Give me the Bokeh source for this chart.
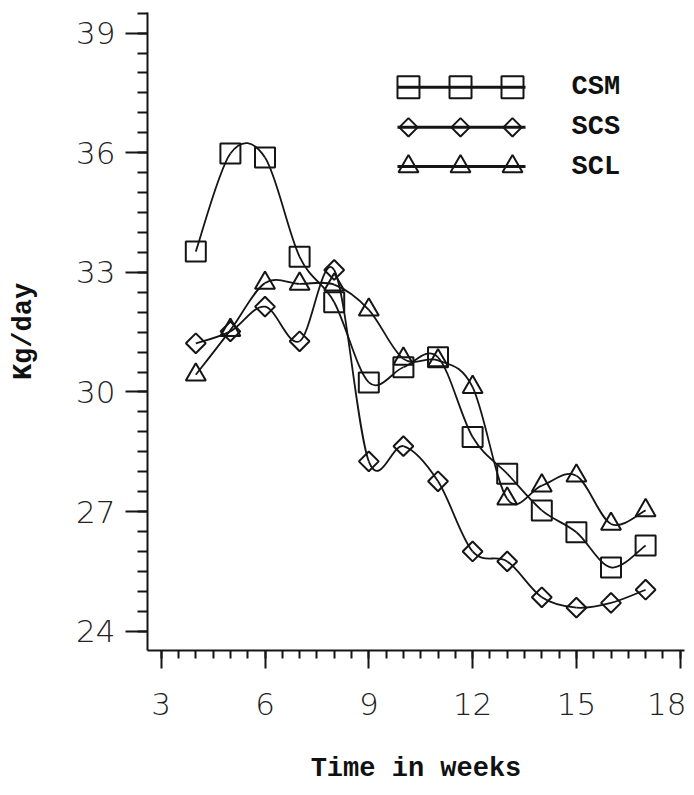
import numpy as np
from bokeh.plotting import figure
from bokeh.models import FixedTicker, Range1d, Label
from bokeh.embed import file_html
from bokeh.resources import INLINE

# ---- data ----
weeks = [4, 5, 6, 7, 8, 9, 10, 11, 12, 13, 14, 15, 16, 17]
csm = [33.52, 35.98, 35.88, 33.39, 32.25, 30.24, 30.62, 30.87, 28.87, 27.95, 27.03, 26.48, 25.60, 26.15]
scs = [31.22, 31.52, 32.14, 31.27, 33.06, 28.26, 28.64, 27.76, 26.00, 25.75, 24.85, 24.59, 24.71, 25.04]
scl = [30.43, 31.55, 32.73, 32.71, 32.69, 32.06, 30.83, 30.79, 30.12, 27.32, 27.65, 27.90, 26.69, 27.03]
series_names = ["CSM", "SCS", "SCL"]
x_ticks = [3, 6, 9, 12, 15, 18]
y_ticks = [24, 27, 30, 33, 36, 39]
x_label = "Time in weeks"
y_label = "Kg/day"

# ---- layout ----
X0, X1 = 2.604, 18.124
Y0, Y1 = 23.516, 39.516
INK = "#151515"
TICK_FONT = "'DejaVu Sans ExtraLight', 'DejaVu Sans Light', 'Lato Light', 'DejaVu Sans', sans-serif"
MONO = "Liberation Mono"

p = figure(width=686, height=787, x_range=Range1d(X0, X1), y_range=Range1d(Y0, Y1),
           output_backend="svg", toolbar_location=None,
           min_border_left=147, min_border_right=2, min_border_top=12, min_border_bottom=137)
p.outline_line_color = None
p.grid.visible = False
p.background_fill_color = "white"
p.border_fill_color = "white"


def style_axis(ax, ticks, minor, tick_out, minor_out, standoff):
    ax.ticker = FixedTicker(ticks=ticks, minor_ticks=minor)
    ax.axis_line_color = INK
    ax.axis_line_width = 2
    ax.major_tick_line_color = INK
    ax.major_tick_line_width = 2
    ax.minor_tick_line_color = INK
    ax.minor_tick_line_width = 2
    ax.major_tick_in = 0
    ax.minor_tick_in = 0
    ax.major_tick_out = tick_out
    ax.minor_tick_out = minor_out
    ax.major_label_text_font = TICK_FONT
    ax.major_label_text_font_size = "31px"
    ax.major_label_text_color = "#222222"
    ax.major_label_standoff = standoff
    ax.axis_label_text_font = MONO
    ax.axis_label_text_font_style = "bold"
    ax.axis_label_text_font_size = "27px"
    ax.axis_label_text_color = "#111111"


style_axis(p.xaxis[0], x_ticks, list(np.arange(2.5, 18.11, 0.5)), 18, 8, 24)
style_axis(p.yaxis[0], y_ticks, list(np.arange(23.5, 39.51, 0.5)), 22, 10, 10)
p.xaxis[0].axis_label = x_label
p.xaxis[0].axis_label_standoff = 36
p.yaxis[0].axis_label = y_label
p.yaxis[0].axis_label_standoff = 34


def catmull_rom(xs, ys):
    x = np.asarray(xs, float)
    y = np.asarray(ys, float)
    n = len(x)
    xp = np.concatenate([[x[0]], x, [x[-1]]])
    yp = np.concatenate([[y[0]], y, [y[-1]]])
    return dict(
        x0=xp[1:n], y0=yp[1:n], x1=xp[2:n + 1], y1=yp[2:n + 1],
        cx0=xp[1:n] + (xp[2:n + 1] - xp[0:n - 1]) / 6.0,
        cy0=yp[1:n] + (yp[2:n + 1] - yp[0:n - 1]) / 6.0,
        cx1=xp[2:n + 1] - (xp[3:n + 2] - xp[1:n]) / 6.0,
        cy1=yp[2:n + 1] - (yp[3:n + 2] - yp[1:n]) / 6.0,
    )


styles = {
    "CSM": dict(marker="square", size=20, angle=0.0, lsize=22),
    "SCS": dict(marker="square", size=14, angle=np.pi / 4, lsize=13),
    "SCL": dict(marker="triangle", size=20, angle=0.0, lsize=20),
}
values = {"CSM": csm, "SCS": scs, "SCL": scl}

for name in series_names:
    seg = catmull_rom(weeks, values[name])
    p.bezier(**seg, line_color=INK, line_width=1.8)
    st = styles[name]
    p.scatter(weeks, values[name], marker=st["marker"], size=st["size"], angle=st["angle"],
              fill_alpha=0, line_color=INK, line_width=2)

# ---- legend (keys placed by fractions of the plot area) ----
def fx(f):
    return X0 + f * (X1 - X0)


def fy(f):
    return Y0 + f * (Y1 - Y0)


row_fracs = [0.883, 0.820, 0.7586]
key_fracs = [0.486, 0.5829, 0.6797]
for name, rf in zip(series_names, row_fracs):
    st = styles[name]
    ly = fy(rf)
    p.line([fx(0.4655), fx(0.7039)], [ly, ly], line_color=INK, line_width=3)
    p.scatter([fx(f) for f in key_fracs], [ly] * 3, marker=st["marker"], size=st["lsize"],
              angle=st["angle"], fill_alpha=0, line_color=INK, line_width=2)
    p.add_layout(Label(x=fx(0.7896), y=ly, text=name, text_font=MONO, text_font_style="bold",
                       text_font_size="27px", text_baseline="middle", text_align="left",
                       text_color="#111111"))

open("out.html", "w").write(file_html(p, INLINE))
